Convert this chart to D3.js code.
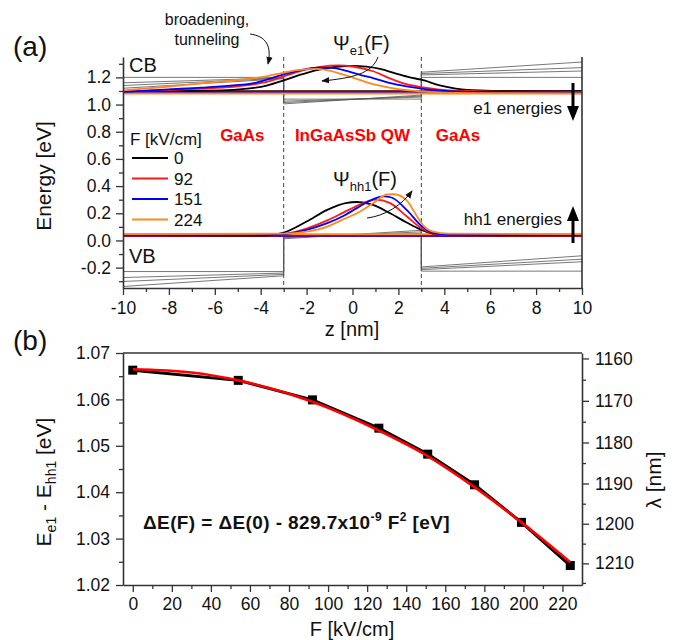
<!DOCTYPE html>
<html>
<head>
<meta charset="utf-8">
<script src="https://cdn.jsdelivr.net/npm/d3@7"></script>
<style>
  body { margin: 0; background: #fff; }
  svg text { font-family: "Liberation Sans", Arial, sans-serif; fill: #111; }
</style>
</head>
<body>
<div id="chart"></div>
<script>
// ---------- panel (a) data ----------
let fields = [0, 92, 151, 224];
let fieldColors = ["#000000", "#ff1a1a", "#0000ff", "#ff8a1a"];
let wellEdges = [-3, 3];
let bandZ = [-10, -3, -3, 3, 3, 10];
// conduction band edge profile per field, at bandZ
let cbEdges = [
  [1.200, 1.200, 1.040, 1.040, 1.200, 1.200],
  [1.160, 1.197, 1.025, 1.055, 1.218, 1.247],
  [1.140, 1.194, 1.015, 1.062, 1.228, 1.272],
  [1.120, 1.190, 1.005, 1.070, 1.238, 1.313]
];
// valence band edge profile per field, at bandZ
let vbEdges = [
  [-0.229, -0.229, 0.035, 0.035, -0.226, -0.226],
  [-0.273, -0.240, 0.025, 0.052, -0.215, -0.157],
  [-0.302, -0.250, 0.020, 0.063, -0.205, -0.138],
  [-0.339, -0.260, 0.012, 0.075, -0.195, -0.113]
];
let e1Levels = [1.098, 1.094, 1.090, 1.082];
let hh1Levels = [0.032, 0.034, 0.037, 0.046];

// electron wavefunctions, [z, E]
let psiE1 = [
  [[-10,1.099],[-8,1.1],[-6.6,1.102],[-5.2,1.108],[-4.3,1.122],[-3.7,1.142],[-3,1.178],[-2.3,1.218],[-1.5,1.256],[-0.6,1.28],[0,1.284],[0.6,1.279],[1.2,1.262],[1.9,1.228],[2.5,1.2],[3,1.183],[3.8,1.142],[4.5,1.118],[5.2,1.106],[6.5,1.1],[10,1.098]],
  [[-10,1.098],[-8,1.106],[-6.6,1.117],[-5.2,1.131],[-4.3,1.148],[-3.7,1.168],[-3,1.207],[-2.2,1.25],[-1.4,1.278],[-0.6,1.288],[0,1.28],[0.9,1.245],[1.6,1.195],[2.36,1.15],[3,1.128],[3.8,1.11],[5,1.1],[6.5,1.095],[10,1.094]],
  [[-10,1.094],[-8,1.112],[-6.6,1.124],[-5.2,1.141],[-4.3,1.158],[-3.7,1.185],[-3,1.222],[-2.3,1.252],[-1.5,1.272],[-0.9,1.27],[-0.3,1.25],[0.4,1.215],[0.9,1.195],[1.6,1.16],[2.36,1.134],[3,1.118],[3.8,1.103],[5,1.094],[10,1.09]],
  [[-10,1.104],[-8.1,1.131],[-6.6,1.156],[-5.2,1.178],[-4.3,1.195],[-3.7,1.21],[-3,1.235],[-2.3,1.255],[-1.6,1.262],[-1,1.25],[-0.5,1.225],[0.3,1.182],[0.9,1.15],[1.6,1.125],[2.36,1.106],[3,1.097],[4,1.088],[6,1.084],[10,1.082]]
];
// heavy hole wavefunctions, [z, E]
let psiHh1 = [
  [[-10,0.032],[-4,0.033],[-3.5,0.04],[-3,0.057],[-2,0.139],[-1.1,0.225],[-0.3,0.275],[0.2,0.283],[0.9,0.262],[1.64,0.2],[2.36,0.132],[3,0.078],[3.5,0.05],[4.1,0.037],[10,0.032]],
  [[-10,0.034],[-3.5,0.037],[-3,0.046],[-2,0.088],[-1.1,0.148],[-0.4,0.205],[0.3,0.262],[1,0.3],[1.64,0.275],[2.36,0.178],[3,0.09],[3.5,0.052],[4.2,0.038],[10,0.034]],
  [[-10,0.037],[-3.5,0.039],[-3,0.045],[-2,0.078],[-1.1,0.127],[-0.4,0.18],[0.19,0.238],[0.91,0.304],[1.35,0.324],[1.7,0.316],[2.36,0.225],[3,0.107],[3.5,0.056],[4.2,0.042],[10,0.037]],
  [[-10,0.046],[-3,0.05],[-2,0.065],[-1.1,0.102],[-0.5,0.148],[0.19,0.2],[0.91,0.275],[1.5,0.338],[1.8,0.34],[2.36,0.295],[2.8,0.18],[3.1,0.107],[3.5,0.065],[4.2,0.05],[10,0.046]]
];
let regionNames = ["GaAs", "InGaAsSb QW", "GaAs"];
let regionZ = [-4.8, 0, 4.6];
let zTicks = [-10, -8, -6, -4, -2, 0, 2, 4, 6, 8, 10];
let zMinor = d3.range(-9, 10, 2);
let eTicks = [-0.2, 0, 0.2, 0.4, 0.6, 0.8, 1.0, 1.2];
let eMinor = [-0.3, -0.1, 0.1, 0.3, 0.5, 0.7, 0.9, 1.1, 1.3];

// ---------- panel (b) data ----------
let fieldB = [0, 54, 92, 126, 151, 175, 199, 224];
let deltaE = [1.0663, 1.0641, 1.0599, 1.0538, 1.0482, 1.0416, 1.0335, 1.0242];
let fitF = [0, 30, 54, 92, 126, 151, 175, 199, 224];
let fitE = [1.0665, 1.0658, 1.0641, 1.0595, 1.0533, 1.0478, 1.0411, 1.0335, 1.0249];
let fTicks = [0, 20, 40, 60, 80, 100, 120, 140, 160, 180, 200, 220];
let fMinor = d3.range(10, 230, 20);
let dETicks = [1.02, 1.03, 1.04, 1.05, 1.06, 1.07];
let dEMinor = [1.025, 1.035, 1.045, 1.055, 1.065];
let lambdaTicks = [1160, 1170, 1180, 1190, 1200, 1210];
let lambdaMinor = [1165, 1175, 1185, 1195, 1205, 1215];
const hc = 1239.84; // eV*nm

const svg = d3.select("#chart").append("svg")
  .attr("width", 680).attr("height", 640)
  .style("background", "#fff");

const defs = svg.append("defs");
defs.append("marker").attr("id", "thinhead")
  .attr("viewBox", "0 0 10 10").attr("refX", 9).attr("refY", 5)
  .attr("markerWidth", 8).attr("markerHeight", 8)
  .attr("markerUnits", "userSpaceOnUse").attr("orient", "auto")
  .append("path").attr("d", "M0,1 L10,5 L0,9 z").attr("fill", "#111");

function minorAxis(axis, scale, vals) {
  return axis(scale).tickValues(vals).tickSize(4).tickFormat("");
}
function styleAxis(g) {
  g.select(".domain").attr("stroke", "#333").attr("stroke-width", 1.6);
  g.selectAll(".tick line").attr("stroke", "#333").attr("stroke-width", 1.3);
  g.selectAll("text").style("font-size", "17.5px").attr("fill", "#111");
}

// ================= panel (a) =================
const xA = d3.scaleLinear().domain([-10, 10]).range([123, 582]);
const yA = d3.scaleLinear().domain([-0.35, 1.35]).range([288, 57]);
const gA = svg.append("g");

const straight = d3.line().x(d => xA(d[0])).y(d => yA(d[1]));
const smooth = d3.line().x(d => xA(d[0])).y(d => yA(d[1])).curve(d3.curveMonotoneX);

// band edges
cbEdges.concat(vbEdges).forEach(vals => {
  gA.append("path")
    .attr("d", straight(bandZ.map((z, i) => [z, vals[i]])))
    .attr("fill", "none").attr("stroke", "#555").attr("stroke-width", 0.8);
});

// well boundaries
wellEdges.forEach(z => {
  gA.append("line")
    .attr("x1", xA(z)).attr("x2", xA(z))
    .attr("y1", yA(1.35)).attr("y2", yA(-0.35))
    .attr("stroke", "#555").attr("stroke-width", 1.1)
    .attr("stroke-dasharray", "4,3");
});

// energy levels
fields.forEach((f, i) => {
  gA.append("path").attr("d", straight([[-10, e1Levels[i]], [10, e1Levels[i]]]))
    .attr("stroke", fieldColors[i]).attr("stroke-width", 2).attr("fill", "none");
  gA.append("path").attr("d", straight([[-10, hh1Levels[i]], [10, hh1Levels[i]]]))
    .attr("stroke", fieldColors[i]).attr("stroke-width", 2).attr("fill", "none");
});

// wavefunctions
fields.forEach((f, i) => {
  gA.append("path").attr("d", smooth(psiE1[i]))
    .attr("fill", "none").attr("stroke", fieldColors[i]).attr("stroke-width", 1.8);
  gA.append("path").attr("d", smooth(psiHh1[i]))
    .attr("fill", "none").attr("stroke", fieldColors[i]).attr("stroke-width", 1.8);
});

// axes (a)
gA.append("g").attr("transform", "translate(123,0)")
  .call(d3.axisLeft(yA).tickValues(eTicks).tickSize(7).tickPadding(5)
    .tickFormat(d => d.toFixed(1)).tickSizeOuter(0))
  .call(styleAxis);
gA.append("g").attr("transform", "translate(123,0)")
  .call(minorAxis(d3.axisLeft, yA, eMinor).tickSizeOuter(0))
  .call(styleAxis).select(".domain").remove();
gA.append("g").attr("transform", "translate(0,288)")
  .call(d3.axisBottom(xA).tickValues(zTicks).tickSize(7).tickPadding(7)
    .tickFormat(d => String(d)).tickSizeOuter(0))
  .call(styleAxis);
gA.append("g").attr("transform", "translate(0,288)")
  .call(minorAxis(d3.axisBottom, xA, zMinor).tickSizeOuter(0))
  .call(styleAxis).select(".domain").remove();
gA.append("line").attr("x1", 582).attr("x2", 582).attr("y1", 57).attr("y2", 288)
  .attr("stroke", "#333").attr("stroke-width", 1.6);

// labels (a)
svg.append("text").attr("x", 13).attr("y", 56).style("font-size", "28px").text("(a)");
svg.append("text").attr("transform", "translate(51,176) rotate(-90)")
  .attr("text-anchor", "middle").style("font-size", "21px").text("Energy [eV]");
svg.append("text").attr("x", 352).attr("y", 336).attr("text-anchor", "middle")
  .style("font-size", "20px").text("z [nm]");
svg.append("text").attr("x", 129).attr("y", 72).style("font-size", "20px").text("CB");
svg.append("text").attr("x", 129).attr("y", 263).style("font-size", "20px").text("VB");

// region names
regionNames.forEach((name, i) => {
  svg.append("text").attr("x", xA(regionZ[i])).attr("y", 141).attr("text-anchor", "middle")
    .style("font-size", "17px").style("font-weight", "bold")
    .style("fill", "#ff0000").text(name);
});

// legend
svg.append("text").attr("x", 130).attr("y", 145).style("font-size", "17px").text("F [kV/cm]");
fields.forEach((f, i) => {
  const ly = 158 + i * 20.5;
  svg.append("line").attr("x1", 132).attr("x2", 168).attr("y1", ly).attr("y2", ly)
    .attr("stroke", fieldColors[i]).attr("stroke-width", 2);
  svg.append("text").attr("x", 174).attr("y", ly + 6).style("font-size", "17px").text(f);
});

// broadening annotation
const bt = svg.append("text").attr("text-anchor", "middle").style("font-size", "16px");
bt.append("tspan").attr("x", 207).attr("y", 25).text("broadening,");
bt.append("tspan").attr("x", 207).attr("y", 45).text("tunneling");
svg.append("path").attr("d", "M250,34 C266,36 272,46 268,64")
  .attr("fill", "none").attr("stroke", "#111").attr("stroke-width", 1)
  .attr("marker-end", "url(#thinhead)");

// Psi labels
const pe = svg.append("text").attr("x", 333).attr("y", 50).style("font-size", "20px");
pe.append("tspan").text("\u03A8");
pe.append("tspan").attr("dy", 5).style("font-size", "13px").text("e1");
pe.append("tspan").attr("dy", -5).text("(F)");
svg.append("path").attr("d", "M378,57 C372,74 352,78 322,81")
  .attr("fill", "none").attr("stroke", "#111").attr("stroke-width", 1)
  .attr("marker-end", "url(#thinhead)");

const ph = svg.append("text").attr("x", 333).attr("y", 186).style("font-size", "20px");
ph.append("tspan").text("\u03A8");
ph.append("tspan").attr("dy", 5).style("font-size", "13px").text("hh1");
ph.append("tspan").attr("dy", -5).text("(F)");
svg.append("path").attr("d", "M367,218 C385,216 402,205 412,191")
  .attr("fill", "none").attr("stroke", "#111").attr("stroke-width", 1)
  .attr("marker-end", "url(#thinhead)");

// energy shift arrows
svg.append("text").attr("x", 562).attr("y", 114).attr("text-anchor", "end")
  .style("font-size", "17px").text("e1 energies");
svg.append("line").attr("x1", 573).attr("x2", 573).attr("y1", 83).attr("y2", 108)
  .attr("stroke", "#000").attr("stroke-width", 3);
svg.append("path").attr("d", "M567,106 L579,106 L573,121 z").attr("fill", "#000");

svg.append("text").attr("x", 562).attr("y", 225).attr("text-anchor", "end")
  .style("font-size", "17px").text("hh1 energies");
svg.append("line").attr("x1", 573).attr("x2", 573).attr("y1", 243).attr("y2", 219)
  .attr("stroke", "#000").attr("stroke-width", 3);
svg.append("path").attr("d", "M567,221 L579,221 L573,206 z").attr("fill", "#000");

// ================= panel (b) =================
const xB = d3.scaleLinear().domain([-5, 230]).range([123, 582]);
const yB = d3.scaleLinear().domain([1.02, 1.07]).range([585, 353]);
const gB = svg.append("g");

gB.append("line").attr("x1", 123).attr("x2", 582).attr("y1", 353).attr("y2", 353)
  .attr("stroke", "#333").attr("stroke-width", 1.6);

gB.append("g").attr("transform", "translate(123,0)")
  .call(d3.axisLeft(yB).tickValues(dETicks).tickSize(7).tickPadding(6)
    .tickFormat(d => d.toFixed(2)).tickSizeOuter(0))
  .call(styleAxis);
gB.append("g").attr("transform", "translate(123,0)")
  .call(minorAxis(d3.axisLeft, yB, dEMinor).tickSizeOuter(0))
  .call(styleAxis).select(".domain").remove();

gB.append("g").attr("transform", "translate(0,585)")
  .call(d3.axisBottom(xB).tickValues(fTicks).tickSize(7).tickPadding(6)
    .tickFormat(d => String(d)).tickSizeOuter(0))
  .call(styleAxis);
gB.append("g").attr("transform", "translate(0,585)")
  .call(minorAxis(d3.axisBottom, xB, fMinor).tickSizeOuter(0))
  .call(styleAxis).select(".domain").remove();

// right wavelength axis, lambda = hc / E
gB.append("g").attr("transform", "translate(582,0)")
  .call(d3.axisRight(yB).tickValues(lambdaTicks.map(l => hc / l)).tickSize(7).tickPadding(6)
    .tickFormat(d => Math.round(hc / d)).tickSizeOuter(0))
  .call(styleAxis);
gB.append("g").attr("transform", "translate(582,0)")
  .call(minorAxis(d3.axisRight, yB, lambdaMinor.map(l => hc / l)).tickSizeOuter(0))
  .call(styleAxis).select(".domain").remove();

// data line + markers
const pts = fieldB.map((f, i) => [f, deltaE[i]]);
gB.append("path")
  .attr("d", d3.line().x(d => xB(d[0])).y(d => yB(d[1]))(pts))
  .attr("fill", "none").attr("stroke", "#000").attr("stroke-width", 3);
gB.selectAll("rect.pt").data(pts).enter().append("rect")
  .attr("class", "pt")
  .attr("x", d => xB(d[0]) - 4.5).attr("y", d => yB(d[1]) - 4.5)
  .attr("width", 9).attr("height", 9).attr("fill", "#000");
// quadratic fit
gB.append("path")
  .attr("d", d3.line().x(d => xB(d[0])).y(d => yB(d[1])).curve(d3.curveMonotoneX)(fitF.map((f, i) => [f, fitE[i]])))
  .attr("fill", "none").attr("stroke", "#ff0000").attr("stroke-width", 2.6);

// labels (b)
svg.append("text").attr("x", 13).attr("y", 350).style("font-size", "28px").text("(b)");
const yl = svg.append("text").attr("transform", "translate(51,482) rotate(-90)")
  .attr("text-anchor", "middle").style("font-size", "21px");
yl.append("tspan").text("E");
yl.append("tspan").attr("dy", 5).style("font-size", "14px").text("e1");
yl.append("tspan").attr("dy", -5).text(" - E");
yl.append("tspan").attr("dy", 5).style("font-size", "14px").text("hh1");
yl.append("tspan").attr("dy", -5).text(" [eV]");
svg.append("text").attr("transform", "translate(661,480) rotate(-90)")
  .attr("text-anchor", "middle").style("font-size", "21px").text("\u03BB [nm]");
svg.append("text").attr("x", 352).attr("y", 636).attr("text-anchor", "middle")
  .style("font-size", "20px").text("F [kV/cm]");

const fit = svg.append("text").attr("x", 143).attr("y", 529)
  .style("font-size", "19px").style("font-weight", "bold").style("letter-spacing", "0.4px");
fit.append("tspan").text("\u0394E(F) = \u0394E(0) - 829.7x10");
fit.append("tspan").attr("dy", -8).style("font-size", "12px").text("-9");
fit.append("tspan").attr("dy", 8).text(" F");
fit.append("tspan").attr("dy", -8).style("font-size", "12px").text("2");
fit.append("tspan").attr("dy", 8).text(" [eV]");
</script>
</body>
</html>
